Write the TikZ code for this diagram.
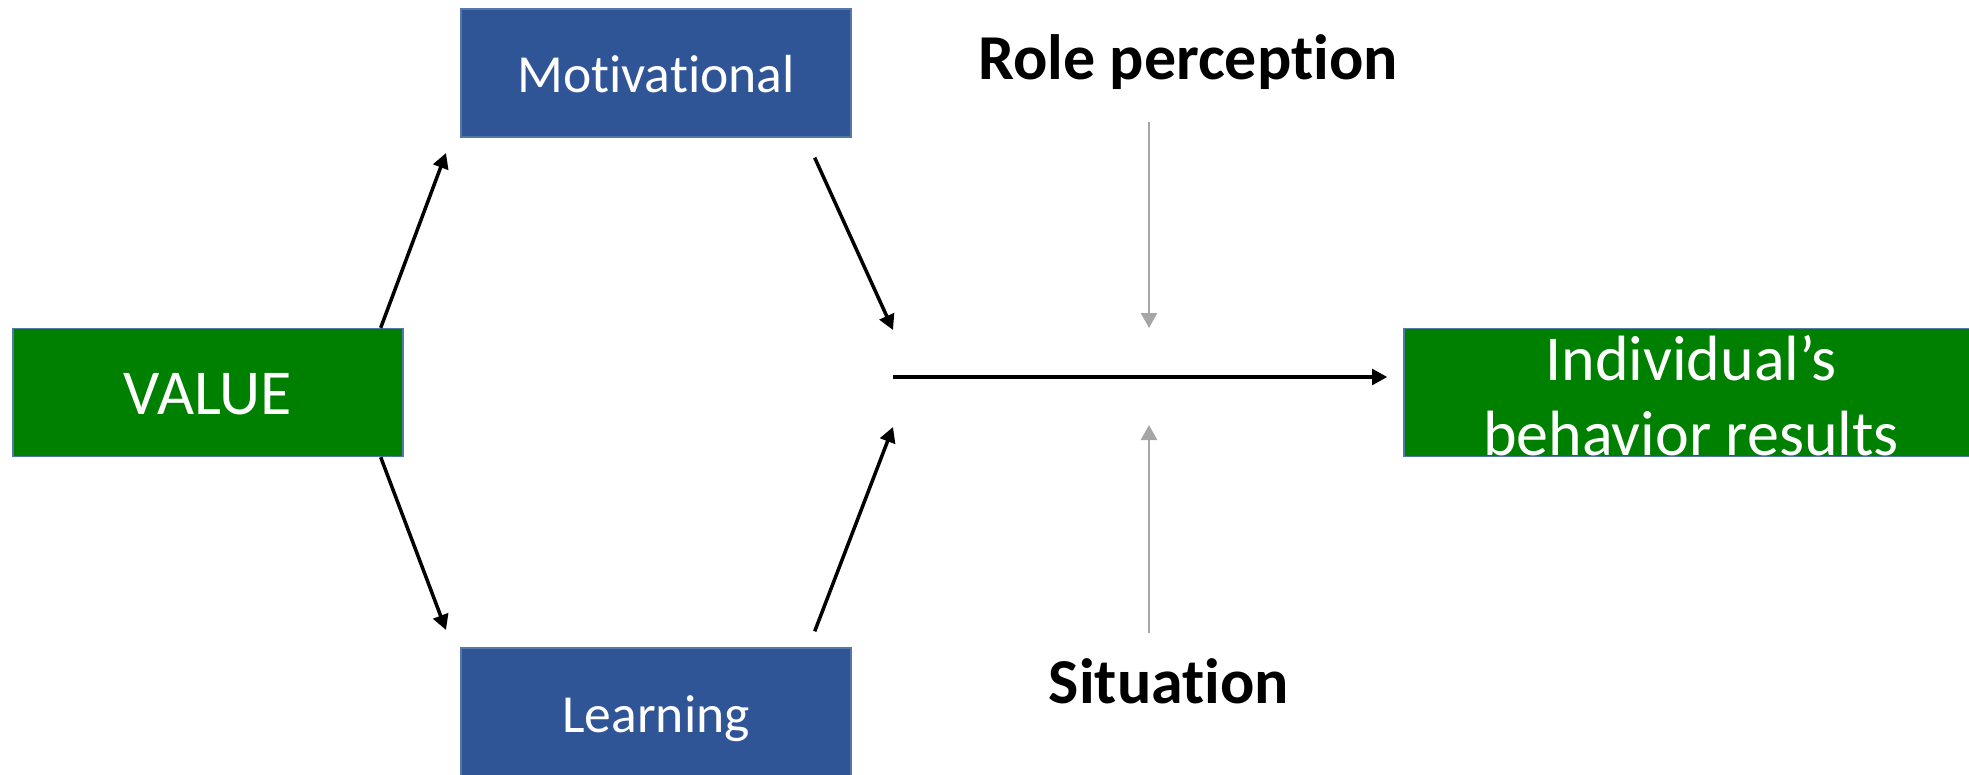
\documentclass[tikz,border=0pt]{standalone}
\usepackage{fontspec}
\setmainfont{Carlito}[Ligatures={NoCommon,NoRare,NoContextual}]
\usetikzlibrary{arrows.meta}
\definecolor{boxgreen}{RGB}{0,128,0}
\definecolor{boxblue}{RGB}{47,85,151}
\definecolor{boxedge}{RGB}{84,120,170}
\definecolor{softgray}{RGB}{166,166,166}
\begin{document}
\begin{tikzpicture}[x=0.5pt,y=-0.5pt,
  box/.style={draw=boxedge, line width=0.7pt, inner sep=0pt, minimum height=64pt, text=white, text depth=0pt},
  greenbox/.style={box, fill=boxgreen, minimum width=195pt, font=\fontsize{32}{38}\selectfont, text height=21.5pt},
  bluebox/.style={box, fill=boxblue, minimum width=195pt, font=\fontsize{26.8}{32}\selectfont, text height=20pt},
  conn/.style={line width=1.75pt, -{Triangle[length=7.6pt,width=7.8pt]}},
  influence/.style={draw=softgray, line width=1.3pt, -{Triangle[length=7.5pt,width=8pt]}},
  factor/.style={font=\fontsize{32}{38}\selectfont\bfseries, anchor=base, inner sep=0pt}
]
\useasboundingbox (0,0) rectangle (1969,775);
% boxes
\node[greenbox] (value) at (208,392.5) {VALUE};
\node[bluebox] (motiv) at (656,73) {Motivational};
\node[bluebox] (learn) at (656,712) {Learning};
\node[box, fill=boxgreen, minimum width=287pt] (result) at (1691,392.5) {};
\node[text=white, align=center, anchor=base, inner sep=0pt,
      font=\fontsize{32}{37.5}\selectfont] (resulttext) at (1691,455) {Individual’s\\behavior results};
% factor labels
\node[factor] (role) at (1188,80) {Role perception};
\node[factor] (situ) at (1169,703) {Situation};
% free ends
\coordinate (motivin) at (446,153);
\coordinate (learnin) at (446,630);
\coordinate (hubtop) at (893,330);
\coordinate (hubbot) at (893,427);
\coordinate (hub) at (893,377);
\coordinate (rolefoot) at (1149,122);
\coordinate (roletip) at (1149,328);
\coordinate (situhead) at (1149,633);
\coordinate (situtip) at (1149,425);
% connectors
\draw[conn] ([xshift=-11.5pt]value.north east) -- (motivin);
\draw[conn] ([xshift=-11.5pt]value.south east) -- (learnin);
\draw[conn] ([xshift=-18.5pt,yshift=-10pt]motiv.south east) -- (hubtop);
\draw[conn] ([xshift=-18.5pt,yshift=8pt]learn.north east) -- (hubbot);
\draw[conn] (hub) -- ([xshift=-8pt,yshift=7.75pt]result.west);
\draw[influence] (rolefoot) -- (roletip);
\draw[influence] (situhead) -- (situtip);
\end{tikzpicture}
\end{document}
